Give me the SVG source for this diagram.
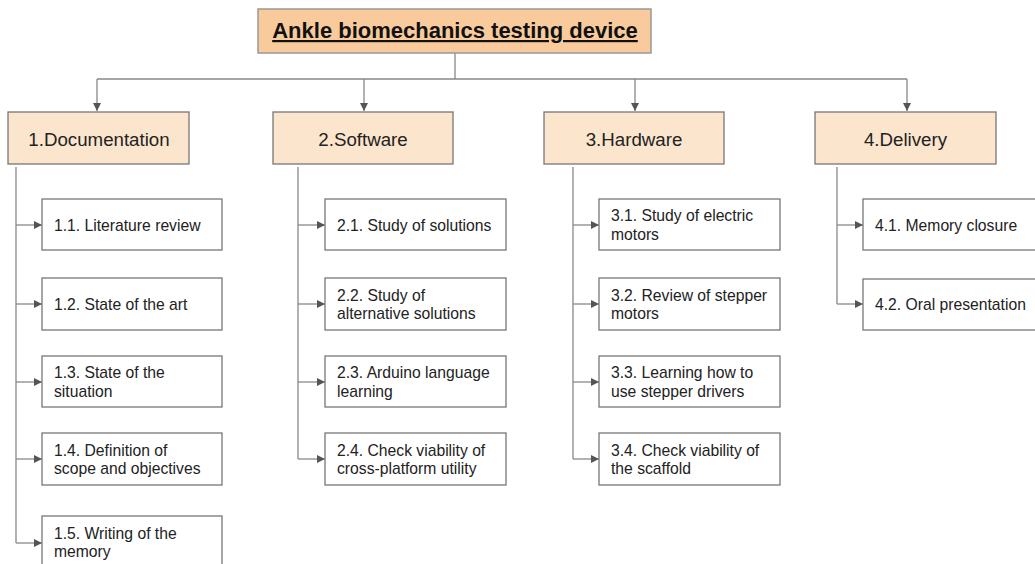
<svg xmlns="http://www.w3.org/2000/svg" width="1035" height="564" viewBox="0 0 1035 564">
<style>
.root{fill:#f9cb9c;stroke:#999;stroke-width:1.5}
.l1{fill:#fce5cd;stroke:#777;stroke-width:1.3}
.l2{fill:#fff;stroke:#777;stroke-width:1.3}
.tr{font-family:"Liberation Sans",Arial,sans-serif;font-size:22px;font-weight:bold;fill:#111;text-anchor:middle;text-decoration:underline}
.t1{font-family:"Liberation Sans",Arial,sans-serif;font-size:18.7px;fill:#222;text-anchor:middle}
.t2{font-family:"Liberation Sans",Arial,sans-serif;font-size:15.7px;fill:#222}
.c{fill:none;stroke:#888;stroke-width:1.3}
</style>
<defs>
<marker id="ah" viewBox="0 0 10 10" refX="10" refY="5" markerWidth="8" markerHeight="8" markerUnits="userSpaceOnUse" orient="auto">
<path d="M0,0 L10,5 L0,10 z" fill="#555"/>
</marker>
</defs>
<rect width="1035" height="564" fill="#fff"/>
<g id="connectors">
<path class="c" d="M455,53 V79 M97,79 H907"/>
<path class="c" d="M97,79 V111" marker-end="url(#ah)"/>
<path class="c" d="M364,79 V111" marker-end="url(#ah)"/>
<path class="c" d="M635,79 V111" marker-end="url(#ah)"/>
<path class="c" d="M907,79 V111" marker-end="url(#ah)"/>
<path class="c" d="M16,167 V543"/>
<path class="c" d="M16,225 H42" marker-end="url(#ah)"/>
<path class="c" d="M16,304 H42" marker-end="url(#ah)"/>
<path class="c" d="M16,382 H42" marker-end="url(#ah)"/>
<path class="c" d="M16,459 H42" marker-end="url(#ah)"/>
<path class="c" d="M16,543 H42" marker-end="url(#ah)"/>
<path class="c" d="M298,167 V459"/>
<path class="c" d="M298,225 H325" marker-end="url(#ah)"/>
<path class="c" d="M298,304 H325" marker-end="url(#ah)"/>
<path class="c" d="M298,382 H325" marker-end="url(#ah)"/>
<path class="c" d="M298,459 H325" marker-end="url(#ah)"/>
<path class="c" d="M573,167 V459"/>
<path class="c" d="M573,225 H599" marker-end="url(#ah)"/>
<path class="c" d="M573,304 H599" marker-end="url(#ah)"/>
<path class="c" d="M573,382 H599" marker-end="url(#ah)"/>
<path class="c" d="M573,459 H599" marker-end="url(#ah)"/>
<path class="c" d="M837,167 V304"/>
<path class="c" d="M837,225 H863" marker-end="url(#ah)"/>
<path class="c" d="M837,304 H863" marker-end="url(#ah)"/>
</g>
<g id="root"><rect class="root" x="258" y="9" width="393" height="44"/><text class="tr" x="455" y="38">Ankle biomechanics testing device</text></g>
<g id="n1"><rect class="l1" x="8" y="112" width="181" height="52"/><text class="t1" x="99" y="145.5">1.Documentation</text></g>
<g id="n2"><rect class="l1" x="273" y="112" width="180" height="52"/><text class="t1" x="363" y="145.5">2.Software</text></g>
<g id="n3"><rect class="l1" x="544" y="112" width="180" height="52"/><text class="t1" x="634" y="145.5">3.Hardware</text></g>
<g id="n4"><rect class="l1" x="815" y="112" width="181" height="52"/><text class="t1" x="905.5" y="145.5">4.Delivery</text></g>
<g id="n11"><rect class="l2" x="42" y="199" width="180" height="51"/><text class="t2" x="54" y="230.5">1.1. Literature review</text></g>
<g id="n12"><rect class="l2" x="42" y="278" width="180" height="52"/><text class="t2" x="54" y="309.5">1.2. State of the art</text></g>
<g id="n13"><rect class="l2" x="42" y="356" width="180" height="51"/><text class="t2" x="54" y="378">1.3. State of the</text><text class="t2" x="54" y="396.5">situation</text></g>
<g id="n14"><rect class="l2" x="42" y="433" width="180" height="52"/><text class="t2" x="54" y="455.5">1.4. Definition of</text><text class="t2" x="54" y="474">scope and objectives</text></g>
<g id="n15"><rect class="l2" x="42" y="516" width="180" height="54"/><text class="t2" x="54" y="538.5">1.5. Writing of the</text><text class="t2" x="54" y="557">memory</text></g>
<g id="n21"><rect class="l2" x="325" y="199" width="181" height="51"/><text class="t2" x="337" y="230.5">2.1. Study of solutions</text></g>
<g id="n22"><rect class="l2" x="325" y="278" width="181" height="52"/><text class="t2" x="337" y="300.5">2.2. Study of</text><text class="t2" x="337" y="319">alternative solutions</text></g>
<g id="n23"><rect class="l2" x="325" y="356" width="181" height="51"/><text class="t2" x="337" y="378">2.3. Arduino language</text><text class="t2" x="337" y="396.5">learning</text></g>
<g id="n24"><rect class="l2" x="325" y="433" width="181" height="52"/><text class="t2" x="337" y="455.5">2.4. Check viability of</text><text class="t2" x="337" y="474">cross-platform utility</text></g>
<g id="n31"><rect class="l2" x="599" y="199" width="181" height="51"/><text class="t2" x="611" y="221">3.1. Study of electric</text><text class="t2" x="611" y="239.5">motors</text></g>
<g id="n32"><rect class="l2" x="599" y="278" width="181" height="52"/><text class="t2" x="611" y="300.5">3.2. Review of stepper</text><text class="t2" x="611" y="319">motors</text></g>
<g id="n33"><rect class="l2" x="599" y="356" width="181" height="51"/><text class="t2" x="611" y="378">3.3. Learning how to</text><text class="t2" x="611" y="396.5">use stepper drivers</text></g>
<g id="n34"><rect class="l2" x="599" y="433" width="181" height="52"/><text class="t2" x="611" y="455.5">3.4. Check viability of</text><text class="t2" x="611" y="474">the scaffold</text></g>
<g id="n41"><rect class="l2" x="863" y="199" width="181" height="51"/><text class="t2" x="875" y="230.5">4.1. Memory closure</text></g>
<g id="n42"><rect class="l2" x="863" y="279" width="181" height="51"/><text class="t2" x="875" y="309.5">4.2. Oral presentation</text></g>
</svg>
